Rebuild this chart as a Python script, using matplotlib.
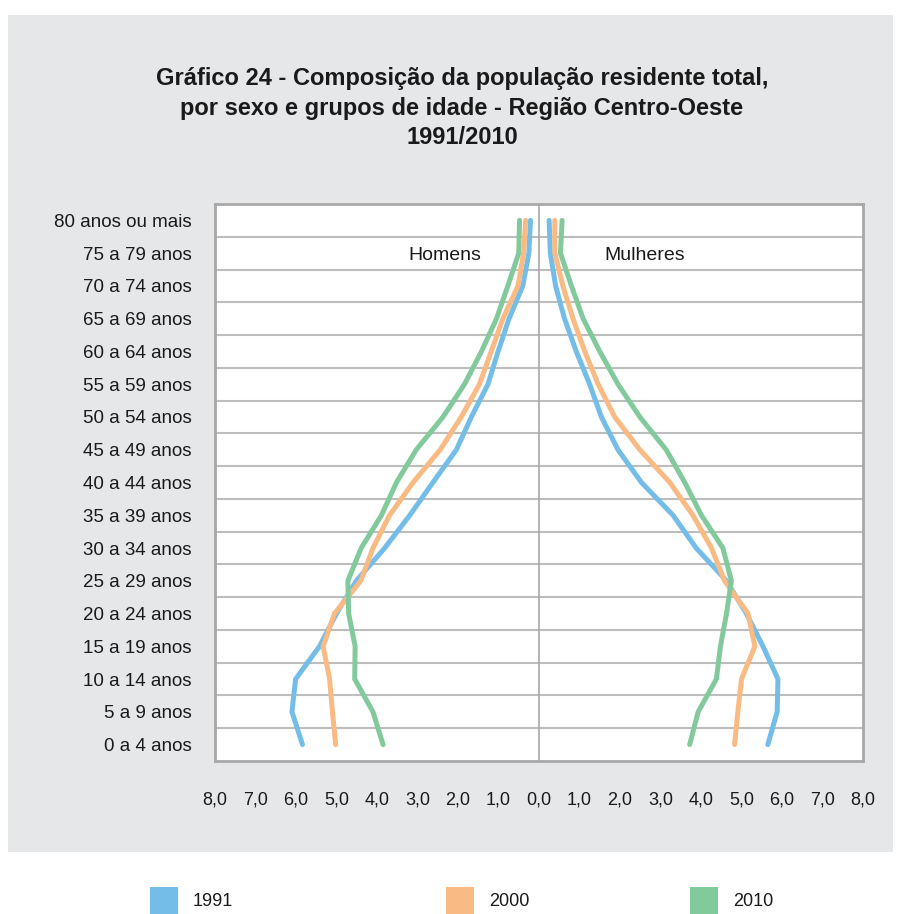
import matplotlib
matplotlib.use("Agg")
import matplotlib.pyplot as plt
from matplotlib.patches import Rectangle
from matplotlib.ticker import FixedLocator
import numpy as np

plt.rcParams['font.family'] = ['Liberation Sans', 'DejaVu Sans']

# Age groups from youngest to oldest
age_groups = ["0 a 4 anos", "5 a 9 anos", "10 a 14 anos", "15 a 19 anos", "20 a 24 anos",
              "25 a 29 anos", "30 a 34 anos", "35 a 39 anos", "40 a 44 anos", "45 a 49 anos",
              "50 a 54 anos", "55 a 59 anos", "60 a 64 anos", "65 a 69 anos", "70 a 74 anos",
              "75 a 79 anos", "80 anos ou mais"]

# Percent of total population (youngest -> oldest)
men_1991 = [5.84, 6.10, 6.01, 5.42, 5.00, 4.51, 3.81, 3.19, 2.62, 2.04, 1.67, 1.26, 1.01, 0.74, 0.40, 0.25, 0.21]
men_2000 = [5.02, 5.10, 5.17, 5.33, 5.05, 4.40, 4.10, 3.69, 3.11, 2.44, 1.92, 1.47, 1.18, 0.89, 0.52, 0.38, 0.33]
men_2010 = [3.85, 4.10, 4.55, 4.54, 4.70, 4.72, 4.39, 3.89, 3.52, 3.03, 2.37, 1.84, 1.42, 1.05, 0.77, 0.50, 0.48]

women_1991 = [5.65, 5.88, 5.90, 5.53, 5.12, 4.63, 3.88, 3.31, 2.53, 1.95, 1.54, 1.25, 0.92, 0.63, 0.41, 0.28, 0.25]
women_2000 = [4.83, 4.91, 5.00, 5.33, 5.16, 4.58, 4.26, 3.80, 3.23, 2.49, 1.87, 1.46, 1.13, 0.84, 0.59, 0.39, 0.39]
women_2010 = [3.72, 3.93, 4.38, 4.48, 4.63, 4.75, 4.54, 4.01, 3.60, 3.14, 2.49, 1.95, 1.50, 1.09, 0.80, 0.53, 0.57]

years = ["1991", "2000", "2010"]
colors = ["#74BDE8", "#FABA84", "#82CA9C"]
x_ticks = [-8, -7, -6, -5, -4, -3, -2, -1, 0, 1, 2, 3, 4, 5, 6, 7, 8]

W, H = 900, 914
fig = plt.figure(figsize=(W / 100, H / 100), dpi=100)
fig.patch.set_facecolor("white")

# grey panel
fig.patches.append(Rectangle((8 / W, 1 - 852 / H), (893 - 8) / W, (852 - 15) / H,
                             transform=fig.transFigure, facecolor="#E6E7E9",
                             edgecolor="none", zorder=-10))

ax = fig.add_axes([215 / W, 1 - 761 / H, (863 - 215) / W, (761 - 204) / H])
ax.set_facecolor("white")

y = np.arange(len(age_groups))
men = [men_1991, men_2000, men_2010]
women = [women_1991, women_2000, women_2010]
for m, w, c in zip(men, women, colors):
    ax.plot(-np.array(m), y, color=c, lw=3.6, solid_capstyle="round", solid_joinstyle="miter", zorder=3)
    ax.plot(np.array(w), y, color=c, lw=3.6, solid_capstyle="round", solid_joinstyle="miter", zorder=3)

ax.set_xlim(-8, 8)
ax.set_ylim(-0.5, len(age_groups) - 0.5)
ax.set_yticks(y)
ax.set_yticklabels(age_groups, fontsize=13.5, color="#1a1a1a")
ax.yaxis.set_minor_locator(FixedLocator(np.arange(0.5, len(age_groups) - 1, 1.0)))
ax.grid(which="minor", axis="y", color="#BDBDBD", lw=1.5, zorder=1)
ax.set_xticks(x_ticks)
ax.set_xticklabels([f"{abs(v):.1f}".replace(".", ",") for v in x_ticks], fontsize=13, color="#1a1a1a")
ax.tick_params(axis="both", which="both", length=0)
ax.tick_params(axis="y", pad=17)
ax.tick_params(axis="x", pad=22)
ax.axvline(0, color="#A8A8A8", lw=1.2, zorder=2)
for s in ax.spines.values():
    s.set_color("#A8A8A8")
    s.set_linewidth(2)

ax.text(-2.32, 14.92, "Homens", ha="center", va="center", fontsize=14, color="#1a1a1a")
ax.text(2.6, 14.92, "Mulheres", ha="center", va="center", fontsize=14, color="#1a1a1a")

fig.text(462 / W, 1 - 108 / H,
         "Gráfico 24 - Composição da população residente total,\n"
         "por sexo e grupos de idade - Região Centro-Oeste\n1991/2010",
         ha="center", va="center", fontsize=17, fontweight="bold", linespacing=1.38,
         color="#1a1a1a")

# legend
leg_x = [150, 446, 690]
for lx, lab, c in zip(leg_x, years, colors):
    fig.patches.append(Rectangle((lx / W, 0), 28 / W, 27 / H, transform=fig.transFigure,
                                 facecolor=c, edgecolor="none"))
    fig.text((lx + 43) / W, 1 - 902 / H, lab, ha="left", va="center", fontsize=13, color="#1a1a1a")

fig.savefig("out.png", dpi=100)
